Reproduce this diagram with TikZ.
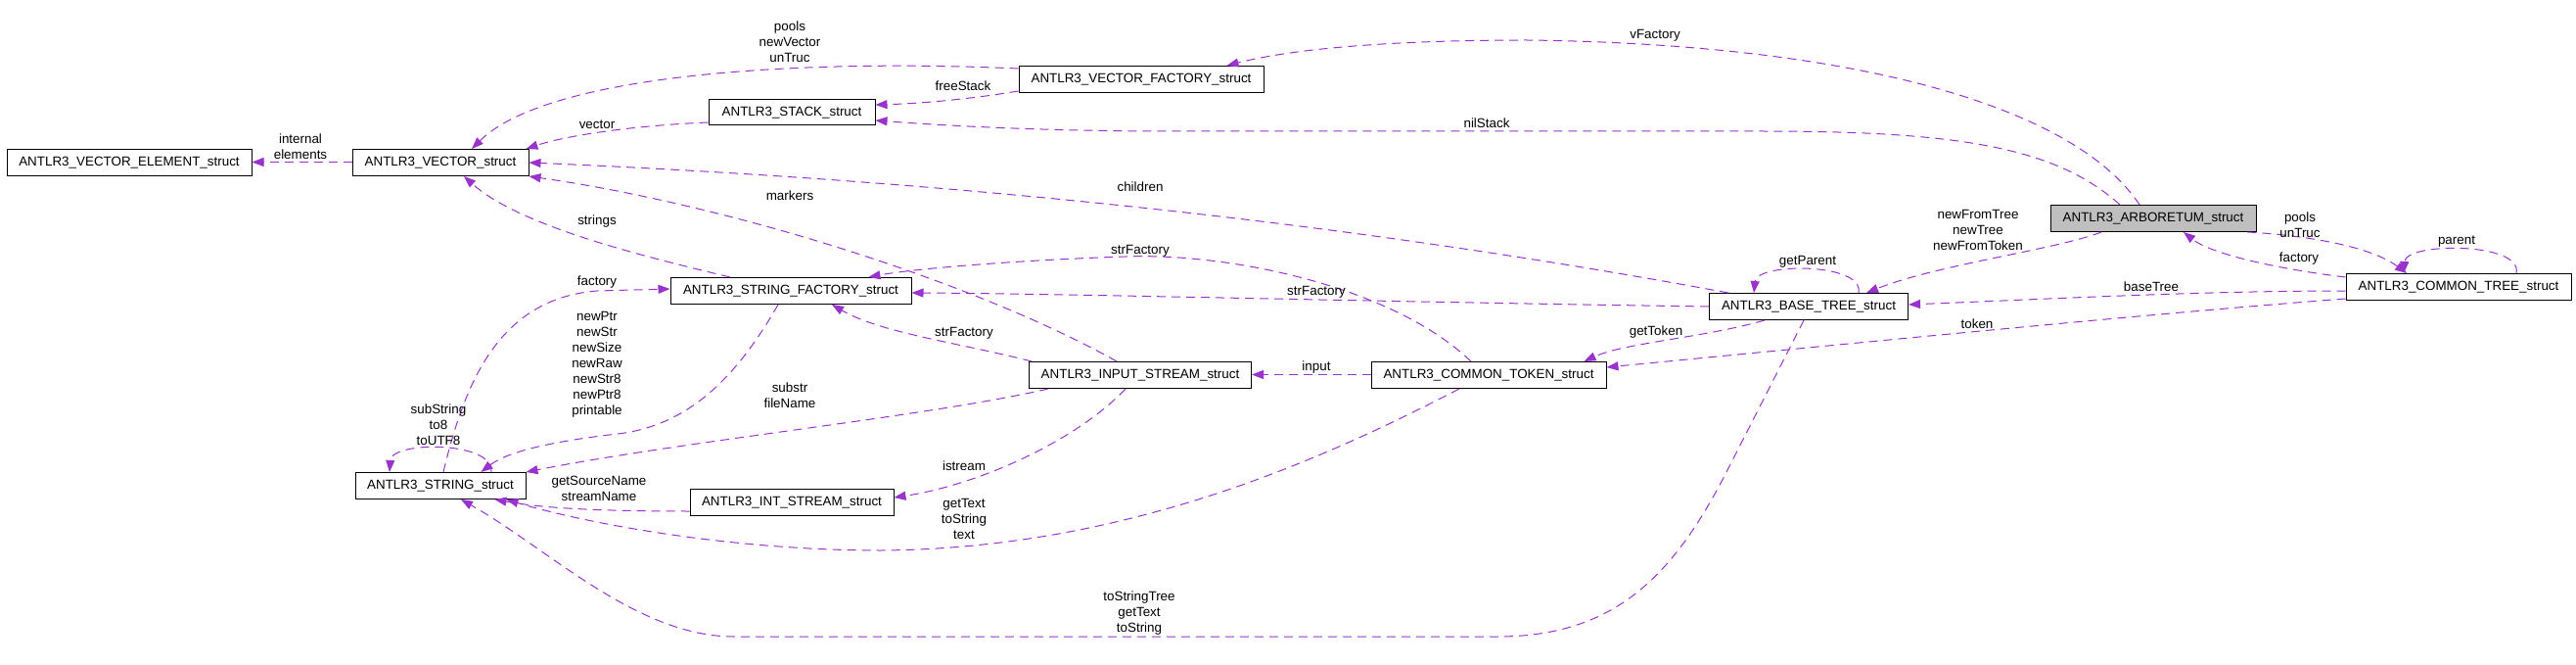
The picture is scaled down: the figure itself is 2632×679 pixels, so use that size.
\documentclass[tikz,border=0pt]{standalone}
\usepackage{fontspec}
\setmainfont{Liberation Sans}
\usetikzlibrary{arrows.meta}
\definecolor{ecol}{HTML}{9A32CD}
\definecolor{afill}{HTML}{BFBFBF}
\newcommand{\lblfont}{\fontsize{13.4}{16}\selectfont}
\begin{document}
\begin{tikzpicture}[x=1pt,y=-1pt,
  cls/.style={draw=black, line width=1pt, minimum height=27pt, inner sep=0pt, font=\lblfont},
  edge/.style={draw=ecol, line width=1pt, dash pattern=on 9pt off 6pt, -{Triangle[length=12pt,width=9pt,fill=ecol]}},
  lab/.style={font=\lblfont, align=center, inner sep=0pt}]
\useasboundingbox (0,0) rectangle (2632,679);
% classes
\node[cls, minimum width=250pt] (ve) at (132,166) {ANTLR3\_VECTOR\_ELEMENT\_struct};
\node[cls, minimum width=180pt] (vec) at (450,166) {ANTLR3\_VECTOR\_struct};
\node[cls, minimum width=170pt, minimum height=26pt] (stk) at (809,115) {ANTLR3\_STACK\_struct};
\node[cls, minimum width=250pt] (vf) at (1166,81) {ANTLR3\_VECTOR\_FACTORY\_struct};
\node[cls, minimum width=210pt, fill=afill] (arb) at (2200,223) {ANTLR3\_ARBORETUM\_struct};
\node[cls, minimum width=246pt] (sf) at (808,297) {ANTLR3\_STRING\_FACTORY\_struct};
\node[cls, minimum width=203pt] (bt) at (1848,313) {ANTLR3\_BASE\_TREE\_struct};
\node[cls, minimum width=230pt] (ct) at (2512,293) {ANTLR3\_COMMON\_TREE\_struct};
\node[cls, minimum width=227pt] (ins) at (1165,383) {ANTLR3\_INPUT\_STREAM\_struct};
\node[cls, minimum width=240pt] (ctk) at (1521,383) {ANTLR3\_COMMON\_TOKEN\_struct};
\node[cls, minimum width=174pt] (str) at (450,496) {ANTLR3\_STRING\_struct};
\node[cls, minimum width=208pt] (ints) at (809,513) {ANTLR3\_INT\_STREAM\_struct};

% edges
\draw[edge] ([yshift=0.5pt]vec.west) -- ([yshift=0.5pt]ve.east);
\draw[edge] ([yshift=-3pt]vf.north west) .. controls (820,60) and (560,75) .. ([xshift=32pt]vec.north);
\draw[edge] ([yshift=2pt]vf.south west) .. controls (980,103) and (930,106) .. ([yshift=8pt]stk.east);
\draw[edge] ([yshift=-10pt]stk.west) .. controls (650,128) and (580,138) .. ([xshift=-3pt]vec.north east);
\draw[edge] ([xshift=-14pt]arb.north) .. controls (2120,110) and (1900,45) .. (1560,41) .. controls (1420,41) and (1320,50) .. ([xshift=-38pt]vf.north east);
\draw[edge] ([xshift=-34pt]arb.north) .. controls (2100,150) and (2000,134) .. (1800,134) -- (1200,134) .. controls (1050,134) and (950,127) .. ([yshift=-8pt]stk.east);
\draw[edge] ([xshift=20pt]bt.north west) .. controls (1500,250) and (1100,190) .. (vec.east);
\draw[edge] ([xshift=-24pt]ins.north) .. controls (1000,290) and (750,210) .. ([yshift=-14pt]vec.east);
\draw[edge] ([xshift=-62pt]sf.north) .. controls (650,260) and (530,230) .. ([xshift=24pt]vec.south);
\draw[edge] (bt.west) .. controls (1400,308) and (1100,300) .. ([yshift=-2pt]sf.east);
\draw[edge] ([xshift=-18pt]ctk.north) .. controls (1420,290) and (1250,258) .. (1150,262) .. controls (1030,266) and (930,275) .. ([xshift=-44pt]sf.north east);
\draw[edge] ([xshift=3pt]ins.north west) .. controls (980,350) and (900,340) .. ([xshift=42pt]sf.south);
\draw[edge] ([xshift=3pt]str.north) .. controls (475,390) and (510,305) .. (610,297) -- ([yshift=2pt]sf.west);
\draw[edge] ([xshift=-13pt]sf.south) .. controls (750,390) and (700,435) .. (631,443) .. controls (570,450) and (520,460) .. ([xshift=-46pt]str.north east);
\draw[edge] ([xshift=52pt]str.north) .. controls (505,450) and (400,450) .. ([xshift=-52pt]str.north);
\draw[edge] ([xshift=20pt]ins.south west) .. controls (950,425) and (700,450) .. (str.north east);
\draw[edge] ([xshift=-15pt]ins.south) .. controls (1100,450) and (1000,495) .. ([yshift=5pt]ints.east);
\draw[edge] ([yshift=-9pt]ints.west) .. controls (600,522) and (550,518) .. ([xshift=-32pt]str.south east);
\draw[edge] ([xshift=-30pt]ctk.south) .. controls (1350,470) and (1150,560) .. (900,562) .. controls (750,562) and (600,535) .. ([xshift=-20pt]str.south east);
\draw[edge] ([xshift=-5pt]bt.south) -- (1765,480) .. controls (1710,588) and (1650,650) .. (1530,650) -- (750,650) .. controls (650,650) and (560,560) .. ([xshift=21pt]str.south);
\draw[edge] ([xshift=-53pt]arb.south) .. controls (2100,255) and (1980,270) .. ([xshift=59pt]bt.north);
\draw[edge] ([xshift=51pt]bt.north) .. controls (1905,268) and (1795,268) .. ([xshift=-56pt]bt.north);
\draw[edge] ([xshift=-45pt]bt.south) .. controls (1740,345) and (1660,350) .. ([xshift=-23pt]ctk.north east);
\draw[edge] ([yshift=0.5pt]ctk.west) -- ([yshift=0.5pt]ins.east);
\draw[edge] ([yshift=-12pt]ct.west) .. controls (2200,320) and (1900,350) .. ([yshift=8pt]ctk.east);
\draw[edge] ([yshift=-4pt]ct.west) .. controls (2250,297) and (2100,305) .. ([yshift=2pt]bt.east);
\draw[edge] ([yshift=10pt]ct.west) .. controls (2330,275) and (2260,260) .. ([xshift=31pt]arb.south);
\draw[edge] ([xshift=-9pt]arb.south east) .. controls (2350,240) and (2420,250) .. ([xshift=-53pt]ct.north);
\draw[edge] ([xshift=59pt]ct.north) .. controls (2578,247) and (2458,247) .. ([xshift=-56pt]ct.north);

% labels
\node[lab] (l1) at (307,150) {internal\\elements};
\node[lab] (l2) at (807,43) {pools\\newVector\\unTruc};
\node[lab] (l3) at (984,88) {freeStack};
\node[lab] (l4) at (610,127) {vector};
\node[lab] (l5) at (1691,36) {vFactory};
\node[lab] (l6) at (1519,126) {nilStack};
\node[lab] (l7) at (1165,191) {children};
\node[lab] (l8) at (807,200) {markers};
\node[lab] (l9) at (610,226) {strings};
\node[lab] (l10) at (1345,298) {strFactory};
\node[lab] (l11) at (1165,256) {strFactory};
\node[lab] (l12) at (985,340) {strFactory};
\node[lab] (l13) at (610,288) {factory};
\node[lab] (l14) at (610,372) {newPtr\\newStr\\newSize\\newRaw\\newStr8\\newPtr8\\printable};
\node[lab] (l15) at (448,434) {subString\\to8\\toUTF8};
\node[lab] (l16) at (807,404) {substr\\fileName};
\node[lab] (l17) at (985,476) {istream};
\node[lab] (l18) at (612,499) {getSourceName\\streamName};
\node[lab] (l19) at (985,530) {getText\\toString\\text};
\node[lab] (l20) at (1164,626) {toStringTree\\getText\\toString};
\node[lab] (l21) at (2021,235) {newFromTree\\newTree\\newFromToken};
\node[lab] (l22) at (1847,267) {getParent};
\node[lab] (l23) at (1692,339) {getToken};
\node[lab] (l24) at (1345,375) {input};
\node[lab] (l25) at (2020,331) {token};
\node[lab] (l26) at (2198,293) {baseTree};
\node[lab] (l27) at (2349,264) {factory};
\node[lab] (l28) at (2350,230) {pools\\unTruc};
\node[lab] (l29) at (2510,247) {parent};
\end{tikzpicture}
\end{document}
